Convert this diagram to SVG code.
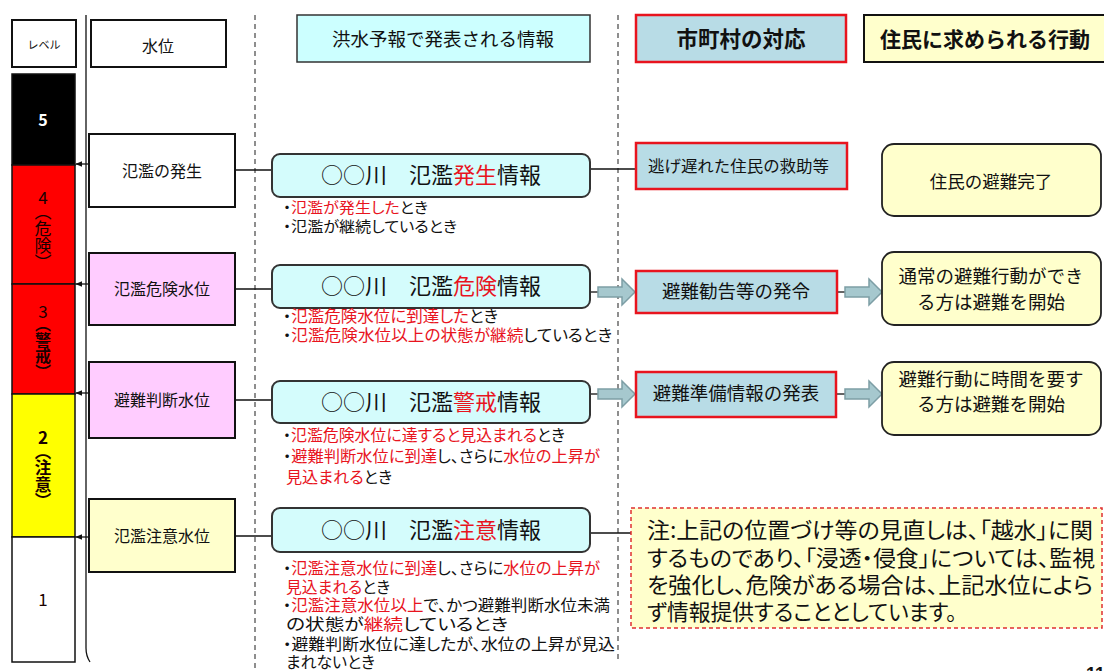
<svg xmlns="http://www.w3.org/2000/svg" width="1104" height="671" viewBox="0 0 1104 671">
<defs>
<style>
text{font-family:"Noto Sans CJK JP","Noto Sans",sans-serif;fill:#111}
.r{fill:#e8141e}
.b{font-weight:bold}
.lvl{stroke:#111;stroke-width:1.5}
.wbox{fill:#fff;stroke:#111;stroke-width:2}
.pink{fill:#ffccff;stroke:#111;stroke-width:2}
.ylw{fill:#ffffcc;stroke:#111;stroke-width:2}
.info{fill:#d4fcfc;stroke:#333;stroke-width:2}
.muni{fill:#b8dce6;stroke:#e8141e;stroke-width:2.5}
.act{fill:#ffffcc;stroke:#222;stroke-width:1.8}
.ln{stroke:#111;stroke-width:1.3;fill:none}
.dash{stroke:#444;stroke-width:1.2;stroke-dasharray:5 4;fill:none}
.barrow{fill:#a6c8ce;stroke:#7d9ea5;stroke-width:1.5}
.m{text-anchor:middle}
.p{font-feature-settings:"palt" 1}
.bul{font-size:15px;font-feature-settings:"palt" 1}
.bul2{font-size:16px;font-feature-settings:"palt" 1}
.lv{font-size:17px;text-anchor:middle;fill:#1a0000}
.vt{writing-mode:vertical-rl;text-orientation:upright;fill:#1a0000}
</style>
<marker id="ah" viewBox="0 0 10 10" refX="9" refY="5" markerWidth="7" markerHeight="7" orient="auto-start-reverse" markerUnits="userSpaceOnUse">
<path d="M0,1 L10,5 L0,9 z" fill="#111"/>
</marker>
</defs>
<rect width="1104" height="671" fill="#fff"/>

<g id="guides">
<path class="ln" d="M86,15 V648 Q86,656 90,662"/>
<line class="dash" x1="255" y1="15" x2="255" y2="671"/>
<line class="dash" x1="618" y1="15" x2="618" y2="662"/>
</g>

<g id="header-level">
<rect x="12" y="20" width="64" height="47" class="wbox"/>
<text x="44" y="49" class="m" font-size="11">レベル</text>
</g>
<g id="header-water">
<rect x="91" y="20" width="135" height="47" class="wbox"/>
<text x="158" y="52" class="m" font-size="16">水位</text>
</g>
<g id="header-info">
<rect x="297" y="15" width="293" height="47" fill="#ccffff" stroke="#333" stroke-width="1.5"/>
<text x="443" y="46" class="m" font-size="18.5">洪水予報で発表される情報</text>
</g>
<g id="header-muni">
<rect x="636" y="15" width="210" height="47" class="muni"/>
<text x="741" y="47" class="m b" font-size="21.5">市町村の対応</text>
</g>
<g id="header-resident">
<rect x="864" y="15" width="245" height="47" fill="#ffffcc" stroke="#111" stroke-width="2"/>
<text x="985" y="47" class="m b" font-size="21">住民に求められる行動</text>
</g>

<g id="level-bar">
<rect x="12" y="74" width="63" height="91" fill="#000" class="lvl"/>
<rect x="12" y="165" width="63" height="119" fill="#ff0000" class="lvl"/>
<rect x="12" y="284" width="63" height="110" fill="#ff0000" class="lvl"/>
<rect x="12" y="394" width="63" height="143" fill="#ffff00" class="lvl"/>
<rect x="12" y="537" width="63" height="125" fill="#fff" class="lvl"/>
<text x="43" y="126" class="m b" font-size="16" style="fill:#fff">5</text>
<text x="43" y="204" class="lv">4</text>
<text x="43" y="203" class="vt" font-size="17">（危険）</text>
<text x="43" y="318" class="lv">3</text>
<text x="43" y="316" class="vt b" font-size="16">（警戒）</text>
<text x="43" y="444" class="lv b">2</text>
<text x="43" y="443" class="vt b" font-size="16.5">（注意）</text>
<text x="43" y="606" class="lv">1</text>
</g>

<g id="connectors">
<line class="ln" x1="89" y1="164" x2="76" y2="164" marker-end="url(#ah)"/>
<line class="ln" x1="89" y1="284" x2="76" y2="284" marker-end="url(#ah)"/>
<line class="ln" x1="89" y1="393" x2="76" y2="393" marker-end="url(#ah)"/>
<line class="ln" x1="89" y1="537" x2="76" y2="537" marker-end="url(#ah)"/>
<line class="ln" x1="235" y1="170" x2="272" y2="170"/>
<line class="ln" x1="235" y1="289" x2="272" y2="289"/>
<line class="ln" x1="235" y1="400" x2="272" y2="400"/>
<line class="ln" x1="235" y1="536" x2="272" y2="536"/>
<line class="ln" x1="590" y1="169" x2="636" y2="169"/>
<line class="ln" x1="590" y1="292" x2="598" y2="292"/>
<line class="ln" x1="590" y1="394" x2="598" y2="394"/>
<line class="ln" x1="837" y1="292" x2="845" y2="292"/>
<line class="ln" x1="836" y1="394" x2="845" y2="394"/>
<line class="ln" x1="590" y1="533" x2="631" y2="533"/>
<path class="barrow" d="M598,287 H622 V279 L635,292 L622,305 V297 H598 z"/>
<path class="barrow" d="M598,389 H622 V381 L635,394 L622,407 V399 H598 z"/>
<path class="barrow" d="M845,287 H869 V279 L882,292 L869,305 V297 H845 z"/>
<path class="barrow" d="M845,389 H869 V381 L882,394 L869,407 V399 H845 z"/>
</g>

<g id="wl-occur">
<rect x="89" y="134" width="146" height="73" class="wbox"/>
<text x="162" y="177" class="m" font-size="16">氾濫の発生</text>
</g>
<g id="wl-danger">
<rect x="89" y="253" width="146" height="72" class="pink"/>
<text x="162" y="295" class="m" font-size="16">氾濫危険水位</text>
</g>
<g id="wl-judge">
<rect x="89" y="362" width="146" height="76" class="pink"/>
<text x="162" y="406" class="m" font-size="16">避難判断水位</text>
</g>
<g id="wl-caution">
<rect x="89" y="499" width="146" height="73" class="ylw"/>
<text x="162" y="542" class="m" font-size="16">氾濫注意水位</text>
</g>

<g id="info-occur">
<rect x="272" y="154" width="318" height="43" rx="8" class="info"/>
<text x="431" y="183" class="m" font-size="22">○○川　氾濫<tspan class="r">発生</tspan>情報</text>
<text x="283" y="213" class="bul" textLength="145" lengthAdjust="spacingAndGlyphs">・<tspan class="r">氾濫が発生した</tspan>とき</text>
<text x="283" y="232" class="bul" textLength="174" lengthAdjust="spacingAndGlyphs">・氾濫が継続しているとき</text>
</g>
<g id="info-danger">
<rect x="272" y="265" width="318" height="43" rx="8" class="info"/>
<text x="431" y="294" class="m" font-size="22">○○川　氾濫<tspan class="r">危険</tspan>情報</text>
<text x="283" y="322" class="bul2" textLength="215" lengthAdjust="spacingAndGlyphs">・<tspan class="r">氾濫危険水位に到達した</tspan>とき</text>
<text x="283" y="341" class="bul2" textLength="329" lengthAdjust="spacingAndGlyphs">・<tspan class="r">氾濫危険水位以上の状態が継続</tspan>しているとき</text>
</g>
<g id="info-warn">
<rect x="272" y="381" width="318" height="42" rx="8" class="info"/>
<text x="431" y="410" class="m" font-size="22">○○川　氾濫<tspan class="r">警戒</tspan>情報</text>
<text x="283" y="441" class="bul2" textLength="282" lengthAdjust="spacingAndGlyphs">・<tspan class="r">氾濫危険水位に達すると見込まれる</tspan>とき</text>
<text x="283" y="462" class="bul2" textLength="317" lengthAdjust="spacingAndGlyphs">・<tspan class="r">避難判断水位に到達</tspan>し、さらに<tspan class="r">水位の上昇が</tspan></text>
<text x="286" y="483" class="bul2" textLength="106" lengthAdjust="spacingAndGlyphs"><tspan class="r">見込まれる</tspan>とき</text>
</g>
<g id="info-caution">
<rect x="272" y="508" width="318" height="44" rx="8" class="info"/>
<text x="431" y="538" class="m" font-size="22">○○川　氾濫<tspan class="r">注意</tspan>情報</text>
<text x="283" y="574" class="bul2" textLength="317" lengthAdjust="spacingAndGlyphs">・<tspan class="r">氾濫注意水位に到達</tspan>し、さらに<tspan class="r">水位の上昇が</tspan></text>
<text x="286" y="593" class="bul2" textLength="104" lengthAdjust="spacingAndGlyphs"><tspan class="r">見込まれる</tspan>とき</text>
<text x="283" y="611" class="bul2" textLength="327" lengthAdjust="spacingAndGlyphs">・<tspan class="r">氾濫注意水位以上</tspan>で、かつ避難判断水位未満</text>
<text x="286" y="630" class="bul2" textLength="222" lengthAdjust="spacingAndGlyphs">の状態が<tspan class="r">継続</tspan>しているとき</text>
<text x="283" y="650" class="bul2" textLength="332" lengthAdjust="spacingAndGlyphs">・避難判断水位に達したが、水位の上昇が見込</text>
<text x="286" y="668" class="bul2" textLength="89" lengthAdjust="spacingAndGlyphs">まれないとき</text>
</g>

<g id="muni-rescue">
<rect x="636" y="143" width="211" height="46" class="muni"/>
<text x="648" y="172" font-size="15.5" textLength="181" lengthAdjust="spacingAndGlyphs">逃げ遅れた住民の救助等</text>
</g>
<g id="muni-advice">
<rect x="636" y="271" width="201" height="42" class="muni"/>
<text x="736" y="298" class="m" font-size="18.5">避難勧告等の発令</text>
</g>
<g id="muni-prep">
<rect x="636" y="372" width="200" height="45" class="muni"/>
<text x="736" y="400" class="m" font-size="18.5">避難準備情報の発表</text>
</g>

<g id="act-complete">
<rect x="882" y="144" width="219" height="72" rx="12" class="act"/>
<text x="991" y="188" class="m" font-size="17.5">住民の避難完了</text>
</g>
<g id="act-normal">
<rect x="882" y="252" width="219" height="73" rx="12" class="act"/>
<text x="991" y="283" class="m" font-size="18.5">通常の避難行動ができ</text>
<text x="991" y="309" class="m" font-size="18.5">る方は避難を開始</text>
</g>
<g id="act-time">
<rect x="882" y="362" width="219" height="73" rx="12" class="act"/>
<text x="991" y="386" class="m" font-size="18.5">避難行動に時間を要す</text>
<text x="991" y="411" class="m" font-size="18.5">る方は避難を開始</text>
</g>

<g id="note">
<rect x="631" y="508" width="471" height="120" fill="#ffffcc" stroke="#e03030" stroke-width="1.5" stroke-dasharray="4 3"/>
<text x="647" y="538" class="p" font-size="21.5" textLength="446" lengthAdjust="spacingAndGlyphs">注:上記の位置づけ等の見直しは、「越水」に関</text>
<text x="647" y="566" class="p" font-size="21.5" textLength="448" lengthAdjust="spacingAndGlyphs">するものであり、「浸透・侵食」については、監視</text>
<text x="647" y="593" class="p" font-size="21.5" textLength="446" lengthAdjust="spacingAndGlyphs">を強化し、危険がある場合は、上記水位によら</text>
<text x="647" y="620" class="p" font-size="21.5" textLength="310" lengthAdjust="spacingAndGlyphs">ず情報提供することとしています。</text>
</g>

<text x="1086" y="680" class="b" font-size="18" style="font-family:'Liberation Sans',sans-serif">11</text>
</svg>
